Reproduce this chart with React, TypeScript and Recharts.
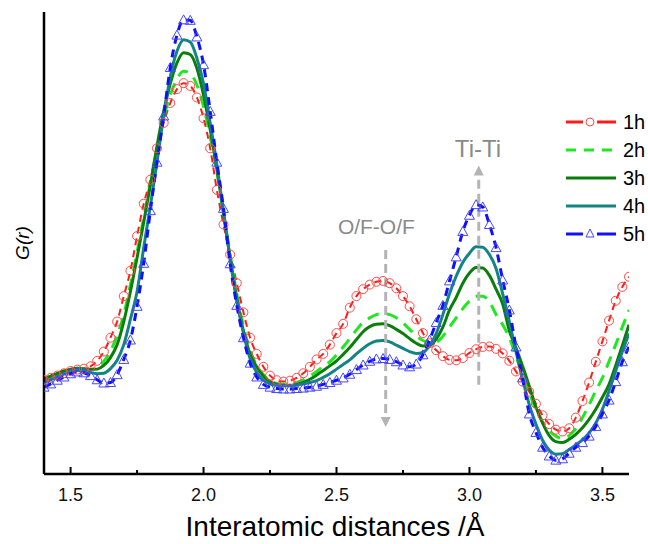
import { LineChart, Line, XAxis, YAxis, ReferenceLine, ReferenceDot } from 'recharts';

// G(r), r = 1.400 ... 3.600 in steps of 0.025 (10 per row)
const g1h = [
  20.3, 20.8, 21.3, 21.8, 22.3, 22.6, 22.8, 23.3, 24.5, 26.5,
  29.5, 33, 38.5, 44, 51.5, 58.5, 63.7, 70.5, 76, 80.3,
  83.3, 84.6, 84, 81.5, 77, 70.5, 61.5, 54, 47.5, 41.3,
  35, 29.5, 26, 23.2, 21.3, 20.3, 20, 20.2, 20.8, 21.8,
  23.2, 24.8, 26, 28, 30.5, 32.5, 36, 38.5, 40, 41,
  41.6, 41.8, 41.3, 40.2, 38.5, 36.3, 33.5, 30.5, 28.3, 26.8,
  25.5, 24.7, 24.6, 25.1, 26.2, 27, 27.5, 27.6, 27.1, 26.1,
  24.5, 22.2, 20, 17.8, 15.2, 12.7, 10.8, 9.6, 9.2, 9.9,
  12.2, 15.8, 19.8, 24.3, 28.7, 33.2, 37.5, 40.5, 42.7,
];
const g2h = [
  20.6, 21.1, 21.7, 22.2, 22.6, 22.8, 22.7, 22.7, 23.2, 24.4,
  26.6, 30, 34.5, 41, 48, 55.5, 63, 70.5, 77, 82,
  85.5, 87.2, 86.7, 84.2, 79.5, 73, 65.5, 56.5, 47.5, 39,
  32, 26.8, 23.5, 21.5, 20.2, 19.6, 19.4, 19.5, 19.8, 20.4,
  21.2, 22.2, 23.3, 24.3, 25.8, 27.5, 29.3, 31.2, 32.8, 33.8,
  34.5, 34.7, 34.5, 33.8, 32.7, 31.3, 29.9, 28.9, 28.5, 28.6,
  29.8, 31.8, 33.8, 35.8, 37.4, 38.5, 38.5, 37.3, 34.5, 32.3,
  29.5, 25.5, 21.5, 17.5, 14, 11.3, 9.4, 8.2, 7.7, 8.3,
  9.8, 12.2, 15, 18, 20.8, 24.4, 28, 31.8, 35.5,
];
const g3h = [
  20.6, 21.2, 21.8, 22.3, 22.7, 22.9, 22.8, 22.6, 22.7, 23.5,
  25.2, 28, 33, 39.5, 46.8, 54.5, 62.5, 71, 78.5, 84.5,
  89, 91.2, 90.8, 87.8, 82, 74.5, 66, 56.5, 46.8, 38,
  31, 26, 23.2, 21.2, 20, 19.4, 19.2, 19.2, 19.4, 19.8,
  20.5, 21.4, 22.4, 23.4, 24.5, 25.9, 27.4, 29.1, 30.8, 31.9,
  32.4, 32.5, 32.1, 31.3, 30.4, 29.3, 28.3, 27.7, 27.8, 29.2,
  31.8, 35.5, 38.2, 41.3, 43.5, 44.7, 44.6, 43, 40, 36.8,
  31, 27.3, 23.3, 19, 14.5, 11, 8.3, 7, 6.8, 7.5,
  8.6, 10, 11.8, 14, 16.6, 19.4, 23.5, 27.8, 32.3,
];
const g4h = [
  19.8, 20.4, 21, 21.6, 22.1, 22.4, 22.3, 22, 21.7, 21.8,
  22.8, 24.6, 28, 33.5, 39.5, 49, 58, 67.5, 77.5, 86,
  91.5, 94, 93.5, 90, 84.5, 76, 67, 56.8, 46.5, 37.5,
  30.5, 25, 22, 20.3, 19.5, 19.2, 19.1, 19.1, 19.2, 19.5,
  19.8, 20.2, 20.9, 21.7, 22.7, 23.7, 24.7, 26, 27.2, 28.2,
  28.8, 28.9, 28.6, 27.9, 27.2, 26.5, 26.1, 26.3, 27.8, 30.4,
  34.5, 39, 42.8, 45.8, 47.8, 49.2, 49.1, 47.5, 44.5, 39,
  33, 26.5, 20.5, 15, 10.8, 7.3, 5.2, 4.3, 4.4, 5.3,
  6.3, 7.4, 8.9, 11, 14, 18, 22.3, 26.5, 30.4,
];
const g5h = [
  18.8, 19.5, 20.3, 21, 21.7, 22.1, 21.9, 21.3, 20.4, 19.7,
  19.8, 21.5, 24.8, 29, 36.3, 45.6, 57, 67.5, 77.5, 88,
  95, 98.3, 98.2, 94.6, 88.6, 78.5, 67.5, 57.5, 45.5, 36.5,
  29.5, 24, 21, 19.4, 18.8, 18.5, 18.4, 18.4, 18.5, 18.6,
  18.8, 19, 19.4, 19.8, 20.3, 20.8, 21.6, 22.6, 23.6, 24.4,
  24.9, 25, 24.8, 24.3, 23.6, 23.2, 23.8, 25.8, 29, 32.8,
  36.5, 41.8, 47, 52.5, 56, 58.3, 57.8, 54, 49, 42,
  35.5, 27.5, 20.8, 13, 9, 5.8, 3.9, 3, 3.3, 4.5,
  5.8, 6.8, 8.2, 10.3, 13, 16, 20, 24.3, 27.5,
];

const xTicks = [1.5, 1.75, 2.0, 2.25, 2.5, 2.75, 3.0, 3.25, 3.5];
const seriesNames = ['1h', '2h', '3h', '4h', '5h'];

const rValues = g1h.map((_, i) => +(1.4 + i * 0.025).toFixed(3));
const data = rValues.map((r, i) => ({
  r,
  h1: g1h[i],
  h2: g2h[i],
  h3: g3h[i],
  h4: g4h[i],
  h5: g5h[i],
}));

const FONT = '"Liberation Sans", Arial, sans-serif';
const GREY = '#b4b4b4';

const C1 = '#ff1a1a';
const C2 = '#1ee81e';
const C3 = '#0b7d0b';
const C4 = '#138484';
const C5 = '#1010ff';

const CircleDot = (props: any) => {
  const { cx, cy, index } = props;
  if (cx == null || cy == null) return <g key={`c${index}`} />;
  return <circle key={`c${index}`} cx={cx} cy={cy} r={4.5} fill="none" stroke="#ff4a4a" strokeWidth={1} />;
};

const TriangleDot = (props: any) => {
  const { cx, cy, index } = props;
  if (cx == null || cy == null) return <g key={`t${index}`} />;
  return (
    <path
      key={`t${index}`}
      d={`M${cx},${cy - 5} L${cx + 5},${cy + 4} L${cx - 5},${cy + 4} Z`}
      fill="none"
      stroke="#4646ff"
      strokeWidth={1}
    />
  );
};

const XTick = (props: any) => {
  const { x, y, payload } = props;
  const v = payload.value as number;
  const major = Math.abs(v * 2 - Math.round(v * 2)) < 1e-6;
  return (
    <g>
      <line x1={x} x2={x} y1={y} y2={y - (major ? 7 : 4)} stroke="#000" strokeWidth={2} />
      {major && (
        <text x={x} y={y + 27} textAnchor="middle" fontFamily={FONT} fontSize={18} fill="#111">
          {v.toFixed(1)}
        </text>
      )}
    </g>
  );
};

const ArrowHead = (dir: 'up' | 'down') => (props: any) => {
  const { cx, cy } = props;
  const d =
    dir === 'down'
      ? `M${cx - 5},${cy - 10} L${cx + 5},${cy - 10} L${cx},${cy} Z`
      : `M${cx - 5},${cy + 10} L${cx + 5},${cy + 10} L${cx},${cy} Z`;
  return <path d={d} fill={GREY} stroke="none" />;
};

const TextMark = (label: string, size: number) => (props: any) => {
  const { cx, cy } = props;
  return (
    <text x={cx} y={cy} textAnchor="middle" fontFamily={FONT} fontSize={size} fill="#8a8a8a">
      {label}
    </text>
  );
};

function LegendSample({ name, y }: { name: string; y: number }) {
  const x0 = 566;
  const x1 = 616;
  let sample = null;
  if (name === '1h') {
    sample = (
      <g>
        <line x1={x0} x2={583} y1={y} y2={y} stroke={C1} strokeWidth={3} />
        <circle cx={590} cy={y} r={4} fill="none" stroke="#ff4a4a" strokeWidth={1} />
        <line x1={597} x2={x1} y1={y} y2={y} stroke={C1} strokeWidth={3} />
      </g>
    );
  } else if (name === '2h') {
    sample = <line x1={x0} x2={x1} y1={y} y2={y} stroke={C2} strokeWidth={3} strokeDasharray="10 8" />;
  } else if (name === '3h') {
    sample = <line x1={x0} x2={x1} y1={y} y2={y} stroke={C3} strokeWidth={3} />;
  } else if (name === '4h') {
    sample = <line x1={x0} x2={x1} y1={y} y2={y} stroke={C4} strokeWidth={3} />;
  } else {
    sample = (
      <g>
        <line x1={x0} x2={583} y1={y} y2={y} stroke={C5} strokeWidth={3} />
        <path d={`M590,${y - 5} L594,${y + 3} L586,${y + 3} Z`} fill="none" stroke="#4646ff" strokeWidth={1} />
        <line x1={597} x2={x1} y1={y} y2={y} stroke={C5} strokeWidth={3} />
      </g>
    );
  }
  return (
    <g>
      {sample}
      <text x={623} y={y + 7} fontFamily={FONT} fontSize={20} fill="#000">
        {name}
      </text>
    </g>
  );
}

export default function App() {
  return (
    <div style={{ position: 'absolute', left: 0, top: 0, width: 648, height: 544, background: '#fff' }}>
      <LineChart width={648} height={544} data={data} margin={{ top: 12, right: 19, bottom: 0, left: 0 }}>
        <XAxis
          dataKey="r"
          type="number"
          domain={[1.4, 3.6]}
          ticks={xTicks}
          allowDataOverflow
          height={70}
          tickSize={0}
          tickMargin={0}
          tickLine={false}
          tick={<XTick />}
          axisLine={{ stroke: '#000', strokeWidth: 2.5 }}
          interval={0}
        />
        <YAxis
          type="number"
          domain={[0, 100]}
          width={44}
          tick={false}
          tickLine={false}
          axisLine={{ stroke: '#000', strokeWidth: 2.5 }}
          allowDataOverflow
        />
        <Line
          type="monotone"
          dataKey="h1"
          stroke={C1}
          strokeWidth={2}
          strokeDasharray="7 5"
          dot={<CircleDot />}
          activeDot={false}
          isAnimationActive={false}
        />
        <Line
          type="monotone"
          dataKey="h2"
          stroke={C2}
          strokeWidth={3}
          strokeDasharray="12 8"
          dot={false}
          activeDot={false}
          isAnimationActive={false}
        />
        <Line type="monotone" dataKey="h3" stroke={C3} strokeWidth={3} dot={false} activeDot={false} isAnimationActive={false} />
        <Line type="monotone" dataKey="h4" stroke={C4} strokeWidth={3} dot={false} activeDot={false} isAnimationActive={false} />
        <Line
          type="monotone"
          dataKey="h5"
          stroke={C5}
          strokeWidth={3}
          strokeDasharray="8 6"
          dot={<TriangleDot />}
          activeDot={false}
          isAnimationActive={false}
        />
        <ReferenceLine
          segment={[{ x: 2.685, y: 48.5 }, { x: 2.685, y: 12.5 }]}
          stroke={GREY}
          strokeWidth={3}
          strokeDasharray="9 5"
        />
        <ReferenceDot x={2.685} y={10.2} r={1} shape={ArrowHead('down')} ifOverflow="visible" />
        <ReferenceLine
          segment={[{ x: 3.035, y: 19.3 }, { x: 3.035, y: 64.5 }]}
          stroke={GREY}
          strokeWidth={3}
          strokeDasharray="9 5"
        />
        <ReferenceDot x={3.035} y={66.8} r={1} shape={ArrowHead('up')} ifOverflow="visible" />
        <ReferenceDot x={2.65} y={51.9} r={1} shape={TextMark('O/F-O/F', 21)} ifOverflow="visible" />
        <ReferenceDot x={3.032} y={68.6} r={1} shape={TextMark('Ti-Ti', 24)} ifOverflow="visible" />
      </LineChart>
      <svg
        width={648}
        height={544}
        style={{ position: 'absolute', left: 0, top: 0, pointerEvents: 'none' }}
      >
        {seriesNames.map((n, i) => (
          <LegendSample key={n} name={n} y={122 + i * 28} />
        ))}
        <text
          transform="translate(29,243) rotate(-90)"
          textAnchor="middle"
          fontFamily={FONT}
          fontStyle="italic"
          fontSize={19}
          fill="#000"
        >
          G(r)
        </text>
        <text x={335} y={536} textAnchor="middle" fontFamily={FONT} fontSize={28} fill="#000">
          Interatomic distances /Å
        </text>
      </svg>
    </div>
  );
}
